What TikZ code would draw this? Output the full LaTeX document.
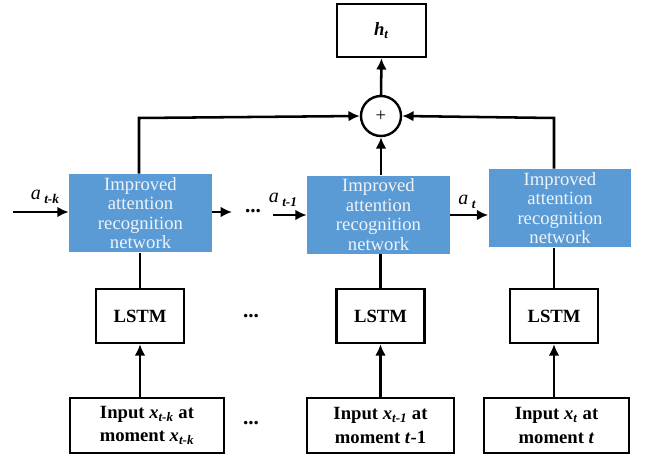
\documentclass[tikz,border=0pt]{standalone}
\usepackage{fontspec}
\setmainfont{Liberation Serif}
\usetikzlibrary{arrows.meta}

\definecolor{attblue}{RGB}{91,155,213}
\definecolor{atttext}{RGB}{238,243,250}

\tikzset{every picture/.style={line width=0.75pt}}
\tikzset{
  attbox/.style={draw=none,fill=attblue,minimum width=107pt,minimum height=58.5pt,inner sep=0pt,
    align=center,text=atttext,font=\fontsize{14}{14.6}\selectfont},
  wbox/.style={draw,line width=1.8pt,fill=white,inner sep=0pt,align=center,
    font=\fontsize{14}{17.5}\selectfont\bfseries},
  sumnode/.style={draw,line width=1.8pt,circle,minimum size=30pt,inner sep=0pt,font=\fontsize{14}{14}\selectfont},
  link/.style={line width=1.9pt},
  arr/.style={line width=1.9pt,-{Latex[length=8.5pt,width=8pt]}},
  alabel/.style={inner sep=0.75pt,font=\fontsize{15}{15}\selectfont},
  dots/.style={inner sep=0pt,font=\fontsize{16}{16}\selectfont\bfseries}
}
\newcommand{\alab}[1]{\textit{a}\raisebox{-0.45ex}{\,\fontsize{10}{10}\selectfont\bfseries\itshape #1}}

\begin{document}
\begin{tikzpicture}[x=0.75pt,y=0.75pt,yscale=-1,xscale=1]
		\useasboundingbox (0,0) rectangle (645,456);
		
		%Shape: Rectangle [output]
		\node [wbox,minimum width=66.75pt,minimum height=39.75pt] (ht) at (381.5,30.5) {\textit{h}\textsubscript{\textit{t}}};
		%Shape: Circle [sum]
		\node [sumnode] (plus) at (381,116) {+};
		
		%Shape: Rectangle [attention networks]
		\node [attbox] (att1) at (140.5,213) {Improved\\attention\\recognition\\network};
		\node [attbox] (att2) at (378.5,214.5) {Improved\\attention\\recognition\\network};
		\node [attbox] (att3) at (560,208) {Improved\\attention\\recognition\\network};
		
		%Shape: Rectangle [lstm cells]
		\node [wbox,minimum width=66pt,minimum height=40.5pt] (lstm1) at (140,316) {LSTM};
		\node [wbox,minimum width=66pt,minimum height=40.5pt] (lstm2) at (380.5,316) {LSTM};
		\node [wbox,minimum width=66pt,minimum height=40.5pt] (lstm3) at (554,316) {LSTM};
		
		%Shape: Rectangle [inputs]
		\node [wbox,minimum width=115.5pt,minimum height=41.25pt] (in1) at (147,425.5) {Input \textit{x}\textsubscript{\textit{t-k}} at\\moment \textit{x}\textsubscript{\textit{t-k}}};
		\node [wbox,minimum width=110.25pt,minimum height=41.25pt] (in2) at (380.5,425.5) {Input \textit{x}\textsubscript{\textit{t-1}} at\\moment \textit{t}-1};
		\node [wbox,minimum width=108.75pt,minimum height=41.25pt] (in3) at (556.5,425.5) {Input \textit{x}\textsubscript{\textit{t}} at\\moment \textit{t}};
		
		\coordinate (ain) at (13,212);
		\coordinate (aout) at (232,212);
		\coordinate (a1in) at (273,215);
		\coordinate (c1) at (139,118);
		\coordinate (c3) at (554,118);
		
		%inputs to lstm
		\draw [arr] (in1.north -| lstm1) -- (lstm1.south);
		\draw [arr] (in2.north -| lstm2) -- (lstm2.south);
		\draw [arr] (in3.north -| lstm3) -- (lstm3.south);
		%lstm to attention
		\draw [link] (lstm1.north) -- (lstm1.north |- att1.south);
		\draw [link] (lstm2.north) -- (lstm2.north |- att2.south);
		\draw [link] (lstm3.north) -- (lstm3.north |- att3.south);
		%attention to sum
		\draw [arr] (c1 |- att1.north) -- (c1) -- (plus.west);
		\draw [arr] (att2.north -| plus) -- (plus.south);
		\draw [arr] (c3 |- att3.north) -- (c3) -- (plus.east);
		\draw [arr] (plus.north) -- (ht.south);
		%attention chain
		\draw [arr] (ain) -- (ain -| att1.west);
		\draw [arr] (aout -| att1.east) -- (aout);
		\draw [arr] (a1in) -- (a1in -| att2.west);
		\draw [arr] (att2.east |- a1in) -- (att3.west |- a1in);
		
		\node [alabel] (lk) at (45,197) {\alab{t-k}};
		\node [alabel] (l1) at (283,200) {\alab{t-1}};
		\node [alabel] (lt) at (467,202) {\alab{t}};
		
		\node [dots] (d1) at (253,211) {...};
		\node [dots] (d2) at (251,316) {...};
		\node [dots] (d3) at (251,423) {...};
		
\end{tikzpicture}
\end{document}
